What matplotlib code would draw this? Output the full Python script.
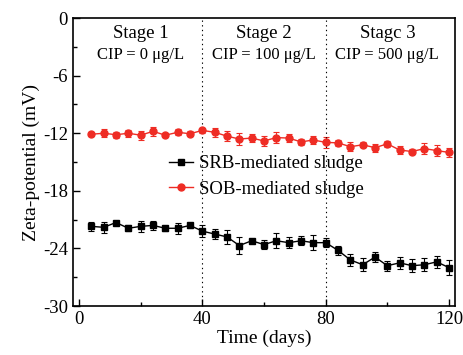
import matplotlib
matplotlib.use("Agg")
import matplotlib.pyplot as plt
from matplotlib.ticker import MultipleLocator

plt.rcParams['font.family'] = ['Liberation Serif', 'DejaVu Serif']
plt.rcParams['axes.unicode_minus'] = False

# sampling days
days = [4, 8, 12, 16, 20, 24, 28, 32, 36, 40,
        44, 48, 52, 56, 60, 64, 68, 72, 76, 80,
        84, 88, 92, 96, 100, 104, 108, 112, 116, 120]

srb = [-21.7, -21.8, -21.3, -21.9, -21.7, -21.6, -21.9, -21.9, -21.6, -22.2,
       -22.5, -22.8, -23.7, -23.2, -23.6, -23.2, -23.4, -23.2, -23.4, -23.4,
       -24.2, -25.2, -25.7, -24.9, -25.8, -25.5, -25.8, -25.7, -25.4, -26.0]
srb_err = [0.5, 0.6, 0.15, 0.3, 0.55, 0.5, 0.25, 0.55, 0.3, 0.6,
           0.5, 0.75, 0.9, 0.2, 0.5, 0.8, 0.6, 0.45, 0.8, 0.5,
           0.45, 0.6, 0.7, 0.55, 0.5, 0.6, 0.7, 0.7, 0.6, 0.8]

sob = [-12.1, -12.0, -12.15, -12.0, -12.2, -11.8, -12.2, -11.9, -12.05, -11.7,
       -11.9, -12.3, -12.6, -12.5, -12.8, -12.45, -12.5, -12.9, -12.7, -12.95,
       -13.0, -13.4, -13.2, -13.5, -13.1, -13.75, -13.9, -13.6, -13.8, -14.0]
sob_err = [0.2, 0.4, 0.3, 0.35, 0.45, 0.5, 0.2, 0.3, 0.25, 0.3,
           0.45, 0.5, 0.6, 0.4, 0.5, 0.6, 0.45, 0.35, 0.4, 0.55,
           0.35, 0.45, 0.25, 0.4, 0.3, 0.45, 0.3, 0.6, 0.55, 0.5]

stage_x = [20, 60, 100]
stage_names = ['Stage 1', 'Stage 2', 'Stagc 3']
stage_cip = ['CIP = 0 μg/L', 'CIP = 100 μg/L', 'CIP = 500 μg/L']
bounds = [40, 80]

fig = plt.figure(figsize=(4.64, 3.55), dpi=100)
ax = fig.add_axes([0.157, 0.138, 0.824, 0.811])

e1 = ax.errorbar(days, srb, yerr=srb_err, color='black', marker='s', ms=5,
                 lw=1.0, capsize=2.5, elinewidth=0.8, capthick=0.8)
e2 = ax.errorbar(days, sob, yerr=sob_err, color='#ee2c24', marker='o', ms=5,
                 lw=1.0, capsize=2.5, elinewidth=0.8, capthick=0.8)

for b in bounds:
    ax.axvline(b, color='black', ls=(0, (1.2, 3)), lw=0.8)

for x, name, cip in zip(stage_x, stage_names, stage_cip):
    ax.text(x, -1.6, name, ha='center', va='center', fontsize=13.5)
    ax.text(x, -3.8, cip, ha='center', va='center', fontsize=12)

ax.set_xlim(-2, 122)
ax.set_ylim(-30, 0)
ax.xaxis.set_major_locator(MultipleLocator(40))
ax.xaxis.set_minor_locator(MultipleLocator(20))
ax.yaxis.set_major_locator(MultipleLocator(6))
ax.yaxis.set_minor_locator(MultipleLocator(3))
ax.tick_params(which='both', direction='in', labelsize=13.5)
ax.tick_params(which='major', length=5, width=1)
ax.tick_params(which='minor', length=3, width=1)
for s in ax.spines.values():
    s.set_linewidth(1.2)

ax.set_xlabel('Time (days)', fontsize=14, labelpad=1)
ax.set_ylabel('Zeta-potential (mV)', fontsize=14, labelpad=2)

# legend shows only the line+marker, no error bar
ax.legend([e1[0], e2[0]], ['SRB-mediated sludge', 'SOB-mediated sludge'],
          loc='center', bbox_to_anchor=(0.505, 0.45), frameon=False,
          fontsize=13.5, handlelength=1.3, handletextpad=0.3,
          labelspacing=0.45)

fig.savefig('out.png', dpi=100)
